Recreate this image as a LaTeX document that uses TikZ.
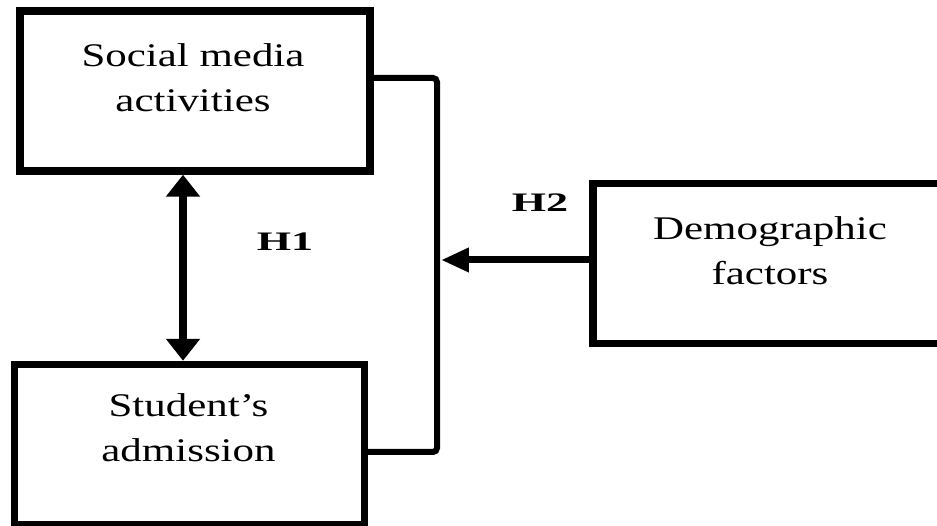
\documentclass[tikz,border=0pt]{standalone}
\usepackage{fontspec}
\setmainfont{Liberation Serif}
\newfontfamily\boxfont{Liberation Serif}[FakeStretch=1.3]
\newfontfamily\hypfont{Liberation Serif}[FakeStretch=1.65]
\usetikzlibrary{arrows.meta,calc}

\tikzset{
  box/.style={draw, line width=0.15cm, minimum width=7cm, minimum height=3.2cm, inner sep=0pt},
  boxtext/.style={align=center, font=\boxfont\fontsize{18.8}{25.6}\selectfont, inner sep=0pt},
  hyp/.style={font=\hypfont\bfseries\fontsize{15.2}{18}\selectfont, inner sep=0pt},
  bracket/.style={line width=0.12cm, rounded corners=0.08cm},
  dblarrow/.style={line width=0.17cm, {Triangle[width=0.66cm,length=0.44cm]}-{Triangle[width=0.66cm,length=0.44cm]}},
  onearrow/.style={line width=0.14cm, -{Triangle[width=0.46cm,length=0.56cm]}}
}

\begin{document}
\begin{tikzpicture}[x=0.02cm, y=0.02cm]
        \clip (0,0) rectangle (937,526);
        \node [box] (sma) at (195,435) {};
        \node [box] (sa) at (189.5,81.5) {};
        \node [box] (dem) at (768,262.5) {};
        \node [boxtext] (smat) at ($(sma)+(-2,13.5)$) {Social media\\activities};
        \node [boxtext] (sat) at ($(sa)+(-1,16.5)$) {Student’s\\admission};
        \node [boxtext] (demt) at ($(dem)+(2,12.5)$) {Demographic\\factors};
        \coordinate (ax) at (183,0);
        \coordinate (brtop) at (437,448);
        \coordinate (brbot) at (437,74);
        \coordinate (h2in) at (441,266);
        \draw [bracket] (sma.east |- brtop) -- (brtop) -- (brbot) -- (sa.east |- brbot);
        \draw [dblarrow] (sma.south -| ax) -- (sa.north -| ax);
        \draw [onearrow] (dem.west |- h2in) -- (h2in);
        \node [hyp] (h1) at (285,284) {H1};
        \node [hyp] (h2) at (540,323) {H2};
    \end{tikzpicture}
\end{document}
